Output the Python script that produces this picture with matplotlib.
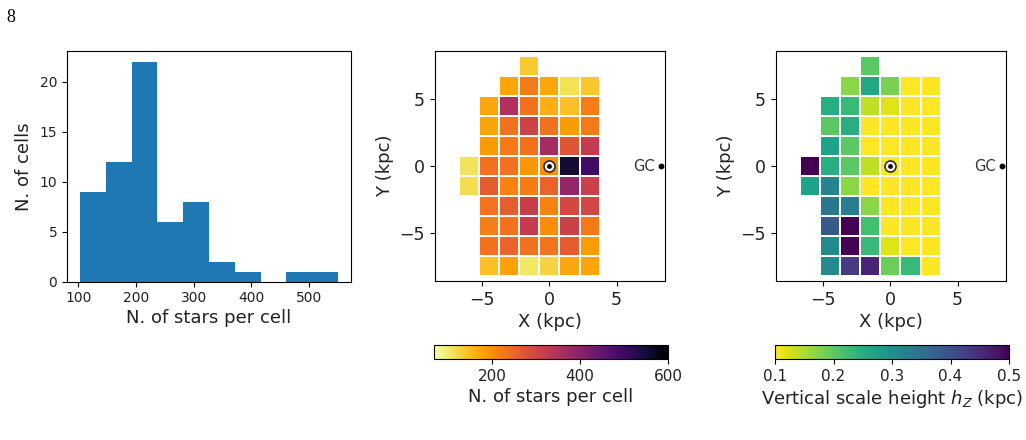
import numpy as np
import matplotlib
matplotlib.use("Agg")
import matplotlib.pyplot as plt
from matplotlib.colors import Normalize
from matplotlib.cm import ScalarMappable

# Cell centres of the Galactic-plane grid (kpc)
x_centres = [-6.0, -4.5, -3.0, -1.5, 0.0, 1.5, 3.0]
y_centres = [7.5, 6.0, 4.5, 3.0, 1.5, 0.0, -1.5, -3.0, -4.5, -6.0, -7.5]

n = np.nan
# Stars per cell: rows run from y = 7.5 down to y = -7.5, columns from x = -6 to x = 3
stars = [
    [n,   n,   n,   135, n,   n,   n],
    [n,   n,   175, 225, 175, 110, 140],
    [n,   170, 350, 236, 165, 145, 220],
    [n,   175, 235, 305, 235, 185, 225],
    [n,   185, 225, 235, 365, 275, 320],
    [108, 235, 235, 190, 200, 550, 490],
    [115, 265, 215, 220, 255, 385, 310],
    [n,   232, 260, 315, 215, 295, 300],
    [n,   220, 235, 320, 200, 310, 225],
    [n,   235, 255, 236, 234, 265, 185],
    [n,   145, 180, 103, 125, 170, 175],
]
# Vertical scale height per cell (kpc)
scale_height = [
    [n,    n,    n,    0.20, n,    n,    n],
    [n,    n,    0.17, 0.26, 0.18, 0.10, 0.10],
    [n,    0.25, 0.23, 0.14, 0.12, 0.10, 0.10],
    [n,    0.20, 0.25, 0.10, 0.10, 0.10, 0.10],
    [n,    0.27, 0.20, 0.10, 0.10, 0.10, 0.10],
    [0.50, 0.25, 0.20, 0.14, 0.10, 0.10, 0.10],
    [0.27, 0.32, 0.17, 0.10, 0.10, 0.10, 0.10],
    [n,    0.34, 0.33, 0.17, 0.10, 0.10, 0.10],
    [n,    0.39, 0.50, 0.22, 0.10, 0.10, 0.10],
    [n,    0.31, 0.50, 0.23, 0.12, 0.10, 0.10],
    [n,    0.31, 0.43, 0.46, 0.19, 0.23, 0.10],
]
hist_bins = 10
hist_xticks = [100, 200, 300, 400, 500]
hist_yticks = [0, 5, 10, 15, 20]
map_ticks = [-5, 0, 5]
star_range = (68, 600)
star_ticks = [200, 400, 600]
height_range = (0.1, 0.5)
height_ticks = [0.1, 0.2, 0.3, 0.4, 0.5]
gc_position = (8.3, 0.0)

W, H = 1026, 440
fig = plt.figure(figsize=(W / 100, H / 100), dpi=100)


def box(left, top, right, bottom):
    return [left / W, 1 - bottom / H, (right - left) / W, (bottom - top) / H]


# Histogram of stars per cell
ax = fig.add_axes(box(67, 51, 351, 281.5))
values = np.array(stars, dtype=float)
ax.hist(values[np.isfinite(values)], bins=hist_bins, color="#1f77b4")
ax.set_xticks(hist_xticks)
ax.set_yticks(hist_yticks)
ax.tick_params(labelsize=10, length=3.5, labelcolor="#222222")
ax.set_xlabel("N. of stars per cell", fontsize=13, labelpad=3, color="#222222")
ax.set_ylabel("N. of cells", fontsize=13, labelpad=5, color="#222222")


def cell_map(rect, data, cmap, limits):
    a = fig.add_axes(rect)
    x = np.array(x_centres)
    y = np.array(y_centres)
    xe = np.append(x - 0.75, x[-1] + 0.75)
    ye = np.append(y + 0.75, y[-1] - 0.75)
    a.pcolormesh(xe, ye, np.ma.masked_invalid(np.array(data, dtype=float)),
                 cmap=cmap, vmin=limits[0], vmax=limits[1],
                 edgecolors="white", linewidth=1.2)
    a.set_xlim(-8.55, 8.6)
    a.set_ylim(-8.6, 8.6)
    a.set_xticks(map_ticks)
    a.set_yticks(map_ticks)
    a.set_xticklabels(["\u22125", "0", "5"])
    a.set_yticklabels(["\u22125", "0", "5"])
    a.tick_params(labelsize=12.5, length=3.5, labelcolor="#222222")
    a.set_xlabel("X (kpc)", fontsize=13, labelpad=3, color="#222222")
    a.set_ylabel("Y (kpc)", fontsize=13, labelpad=4, color="#222222")
    # Sun symbol at the origin and Galactic centre marker
    a.plot(0, 0, "o", ms=8, mfc="#f2f2f2", mec="#222222", mew=1.1)
    a.plot(0, 0, "o", ms=2.4, color="black")
    a.plot(*gc_position, "o", ms=3.2, color="black")
    a.text(gc_position[0] - 0.45, gc_position[1], "GC", ha="right", va="center",
           fontsize=10.5, color="#333333")


def bar(rect, cmap, limits, ticks, label, labelpad):
    c = fig.add_axes(rect)
    sm = ScalarMappable(norm=Normalize(*limits), cmap=cmap)
    cb = fig.colorbar(sm, cax=c, orientation="horizontal")
    cb.set_ticks(ticks)
    cb.ax.tick_params(labelsize=11, length=3.5, labelcolor="#222222")
    cb.set_label(label, fontsize=13, labelpad=labelpad, color="#222222")


cell_map(box(434.5, 51, 665, 281), stars, "inferno_r", star_range)
cell_map(box(775.5, 51, 1006, 281), scale_height, "viridis_r", height_range)

bar(box(434, 345, 668, 359), "inferno_r", star_range, star_ticks,
    "N. of stars per cell", 3)
bar(box(775, 345, 1009, 359), "viridis_r", height_range, height_ticks,
    r"Vertical scale height $h_Z$ (kpc)", 3)

# Page number
fig.text(6 / W, 1 - 22 / H, "8", family="Liberation Serif", fontsize=13, va="baseline")

fig.savefig("out.png", dpi=100)
